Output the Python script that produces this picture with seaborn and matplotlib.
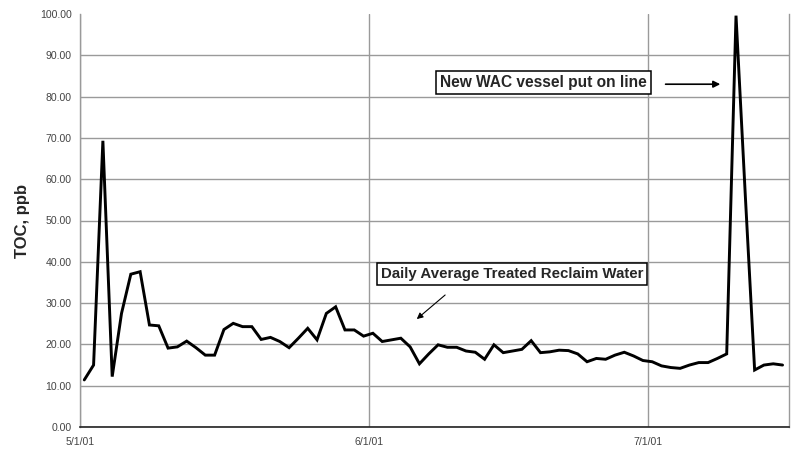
import matplotlib
matplotlib.use("Agg")
import matplotlib.pyplot as plt
import matplotlib.dates as mdates
import matplotlib.ticker as mticker
import numpy as np
import pandas as pd
import seaborn as sns

# Daily average TOC of treated reclaim water, 5/1/01 - 7/15/01
start_date = "2001-05-01"
toc_ppb = [
    11.4, 15.0, 69.3, 12.2, 27.5, 37.0, 37.6, 24.7, 24.5, 19.1,
    19.4, 20.8, 19.2, 17.4, 17.4, 23.6, 25.1, 24.3, 24.3, 21.2,
    21.7, 20.7, 19.2, 21.5, 23.9, 21.1, 27.5, 29.1, 23.5, 23.5,
    22.0, 22.7, 20.7, 21.1, 21.5, 19.4, 15.3, 17.7, 19.9, 19.3,
    19.3, 18.4, 18.1, 16.4, 19.9, 18.0, 18.4, 18.8, 20.9, 18.0,
    18.2, 18.6, 18.5, 17.7, 15.8, 16.6, 16.4, 17.4, 18.1, 17.2,
    16.1, 15.8, 14.8, 14.4, 14.2, 15.0, 15.6, 15.6, 16.6, 17.7,
    99.6, 56.0, 13.8, 15.0, 15.3, 15.0,
]
tick_dates = ["2001-05-01", "2001-06-01", "2001-07-01"]
y_ticks = [0, 10, 20, 30, 40, 50, 60, 70, 80, 90, 100]
label_series = "Daily Average Treated Reclaim Water"
label_event = "New WAC vessel put on line"

# each daily value sits in the middle of its day slot
dates = pd.date_range(start_date, periods=len(toc_ppb), freq="D") + pd.Timedelta(hours=11)
df = pd.DataFrame({"date": dates, "toc": toc_ppb})

sns.set_theme(style="white")
plt.rcParams["font.family"] = ["Liberation Sans", "DejaVu Sans"]

fig = plt.figure(figsize=(7.91, 4.5), dpi=100)
ax = fig.add_axes([80 / 791, 1 - 427 / 450, 709 / 791, 413 / 450])

sns.lineplot(data=df, x="date", y="toc", ax=ax, color="black", linewidth=2.1,
             solid_joinstyle="miter")

x0 = pd.Timestamp(start_date)
ax.set_xlim(x0, x0 + pd.Timedelta(days=76.15))
ax.set_ylim(0, 100)

ax.set_xticks([pd.Timestamp(d) for d in tick_dates])
ax.xaxis.set_major_formatter(mdates.DateFormatter("%-m/%-d/%y"))
ax.set_yticks(y_ticks)
ax.yaxis.set_major_formatter(mticker.FormatStrFormatter("%.2f"))

ax.grid(True, color="#9a9a9a", linewidth=1.0)
ax.get_ygridlines()[-1].set_visible(False)
ax.set_axisbelow(True)
ax.tick_params(axis="both", labelsize=7.6, colors="#444444", length=4,
               width=0.8, direction="out", pad=2)
ax.tick_params(axis="x", pad=3)
for side in ("left", "right"):
    ax.spines[side].set_color("#9a9a9a")
    ax.spines[side].set_linewidth(1.0)
ax.spines["bottom"].set_color("#222222")
ax.spines["bottom"].set_linewidth(1.2)
ax.spines["top"].set_visible(False)

ax.set_xlabel("")
ax.set_ylabel("TOC, ppb", fontsize=12, fontweight="bold", labelpad=7)

box = dict(boxstyle="square,pad=0.25", fc="white", ec="black", lw=1.1)
ax.text(0.609, 0.370, label_series, transform=ax.transAxes, ha="center",
        va="center", fontsize=10.8, fontweight="bold", bbox=box)
ax.annotate("", xy=(0.472, 0.257), xytext=(0.518, 0.324),
            xycoords="axes fraction", textcoords="axes fraction",
            arrowprops=dict(arrowstyle="-|>", color="black", lw=0.8,
                            mutation_scale=9))
ax.text(0.654, 0.835, label_event, transform=ax.transAxes, ha="center",
        va="center", fontsize=11.2, fontweight="bold", bbox=box)
ax.annotate("", xy=(0.907, 0.830), xytext=(0.822, 0.830),
            xycoords="axes fraction", textcoords="axes fraction",
            arrowprops=dict(arrowstyle="-|>", color="black", lw=1.2,
                            mutation_scale=10))

fig.savefig("out.png", dpi=100)
